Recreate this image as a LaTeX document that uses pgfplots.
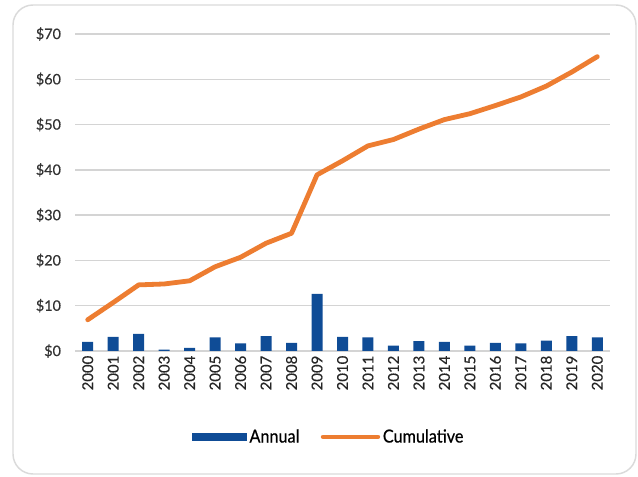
\documentclass[border=0pt]{standalone}
\usepackage{fontspec}
\setmainfont{Lato}
\newfontfamily\legfont[FakeStretch=0.9,FakeBold=0.6]{Lato}
\newfontfamily\tickfont[FakeBold=0.5]{Lato}
\usepackage{pgfplots}
\pgfplotsset{compat=1.18}
\definecolor{barblue}{HTML}{0F4C96}
\definecolor{lineorange}{HTML}{ED7D31}
\definecolor{gridgray}{HTML}{D4D4D4}
\definecolor{framegray}{HTML}{DADADA}
\begin{document}
\begin{tikzpicture}
\path[use as bounding box] (0,0) rectangle (478.5pt,357.75pt);
\draw[framegray, line width=1.1pt, rounded corners=15pt] (9.75pt,2.25pt) rectangle (477pt,354pt);
\begin{axis}[
  at={(56.25pt,94.5pt)}, anchor=south west,
  scale only axis, width=401.25pt, height=237.75pt,
  xmin=-0.5, xmax=20.5, ymin=0, ymax=70,
  axis line style={draw=none},
  major tick length=0pt,
  ytick={0,10,...,70},
  yticklabels={\$0,\$10,\$20,\$30,\$40,\$50,\$60,\$70},
  yticklabel style={font=\tickfont\fontsize{10.8}{12}\selectfont, color=black!80, xshift=-7pt},
  xtick={0,...,20},
  xticklabels={2000,2001,2002,2003,2004,2005,2006,2007,2008,2009,2010,2011,2012,2013,2014,2015,2016,2017,2018,2019,2020},
  xticklabel style={rotate=90, anchor=east, font=\tickfont\fontsize{11.2}{12}\selectfont, color=black!85},
  ymajorgrids, grid style={gridgray, line width=1pt},
  legend columns=2,
  legend style={at={(0.475,-0.271)}, anchor=center, draw=none, fill=none,
    font=\legfont\fontsize{13.5}{15}\selectfont,
    /tikz/every even column/.append style={column sep=14pt},
    cells={anchor=west}},
]
\addplot[ybar, bar width=8.25pt, fill=barblue, draw=none,
  legend image code/.code={\fill[barblue] (0pt,-3pt) rectangle (41pt,3pt);}]
  coordinates {(0,2.0) (1,3.1) (2,3.8) (3,0.3) (4,0.7) (5,3.0) (6,1.7) (7,3.3) (8,1.8) (9,12.6) (10,3.1) (11,3.0) (12,1.2) (13,2.2) (14,2.0) (15,1.2) (16,1.8) (17,1.7) (18,2.3) (19,3.3) (20,3.0)};
\addlegendentry{Annual}
\addplot[lineorange, line width=3.6pt, line join=round, line cap=round, mark=none,
  legend image code/.code={\draw[lineorange, line width=3.6pt, line cap=round] (0pt,0pt) -- (41pt,0pt);}]
  coordinates {(0,6.9) (1,10.7) (2,14.6) (3,14.8) (4,15.5) (5,18.6) (6,20.7) (7,23.8) (8,26.0) (9,38.9) (10,42.0) (11,45.3) (12,46.7) (13,49.0) (14,51.1) (15,52.4) (16,54.2) (17,56.1) (18,58.5) (19,61.6) (20,65.0)};
\addlegendentry{Cumulative}
\end{axis}
\end{tikzpicture}
\end{document}
